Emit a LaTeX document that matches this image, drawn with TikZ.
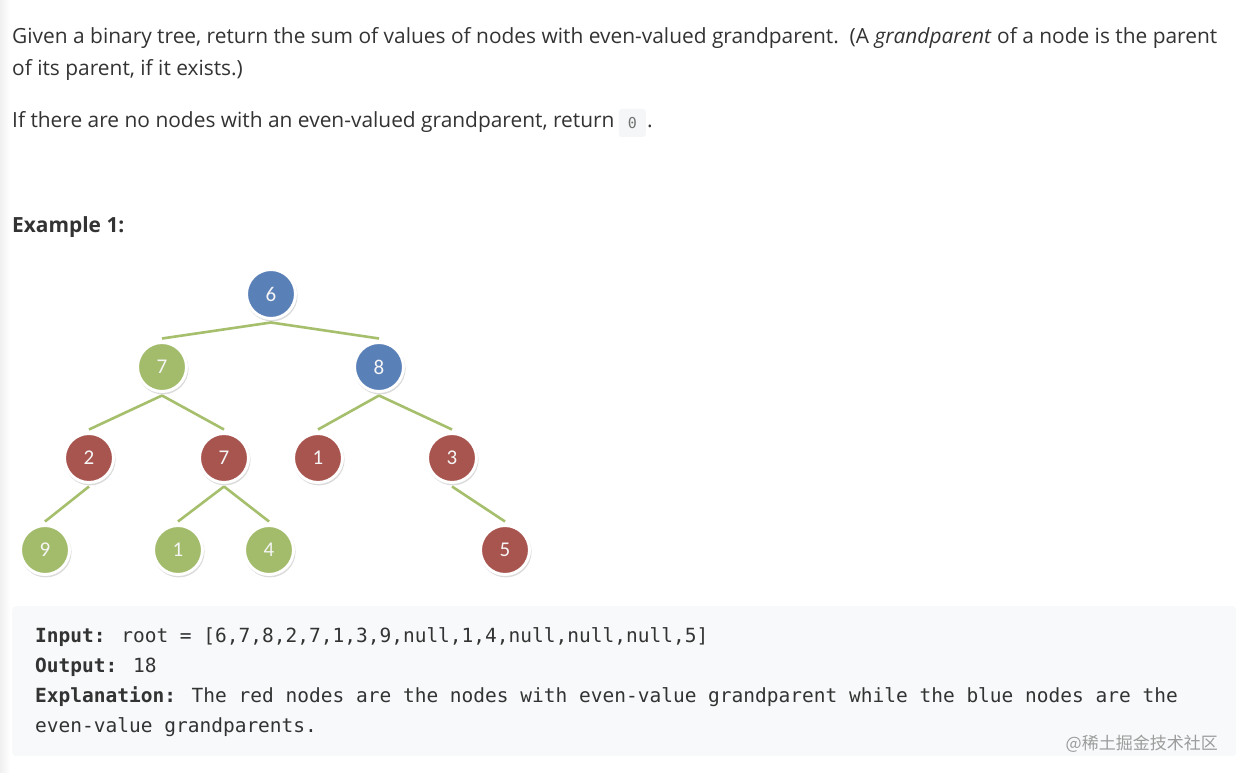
\documentclass[tikz,border=0pt]{standalone}
\usepackage{fontspec}
\setmainfont{Open Sans}
\newfontfamily\codefont{DejaVu Sans Mono}
\newfontfamily\labelfont{Carlito}
\newfontfamily\cjkfont{Noto Sans CJK SC}
\usetikzlibrary{shadows}
\pgfdeclarelayer{bgzero}
\pgfdeclarelayer{edgelayer}
\pgfsetlayers{bgzero,edgelayer,main}
\definecolor{txt}{HTML}{333333}
\definecolor{nblue}{HTML}{5A80B8}
\definecolor{nred}{HTML}{A8544F}
\definecolor{ngreen}{HTML}{A3BC6C}
\definecolor{edgegreen}{HTML}{A6BF6C}
\definecolor{codebg}{HTML}{F7F9FA}
\definecolor{inlinebg}{HTML}{F4F6F7}
\definecolor{wm}{HTML}{9C9C9C}
\begin{document}
\begin{tikzpicture}[x=1pt,y=-1pt,
  para/.style={anchor=base west,inner sep=0pt,text=txt,font=\fontsize{20.9}{24}\selectfont},
  codeline/.style={anchor=base west,inner sep=0pt,text=txt,font=\codefont\fontsize{19.5}{24}\selectfont},
  tnode/.style={circle,minimum size=49pt,inner sep=0pt,draw=white,line width=3pt,outer sep=4pt,
    text=white!92!gray,font=\labelfont\fontsize{21}{24}\selectfont,
    drop shadow={shadow xshift=0.8pt,shadow yshift=-1.6pt,shadow scale=1.05,opacity=0.28}},
  bn/.style={tnode,fill=nblue},
  rn/.style={tnode,fill=nred},
  gn/.style={tnode,fill=ngreen},
  edge/.style={draw=edgegreen,line width=2.6pt}]
\useasboundingbox (0,0) rectangle (1240,773);
\begin{pgfonlayer}{bgzero}
\fill[white] (0,0) rectangle (1240,773);
\shade[left color=black!6,right color=white] (0,0) rectangle (10,773);
\end{pgfonlayer}

% text
\node[para] (l1) at (12,44) {Given a binary tree, return the sum of values of nodes with even-valued grandparent.\ \ (A \textit{grandparent} of a node is the parent};
\node[para] (l2) at (12,76) {of its parent, if it exists.)};
\node[para] (l3) at (12,128) {If there are no nodes with an even-valued grandparent, return};
\node[fill=inlinebg,rounded corners=3pt,minimum width=27pt,minimum height=28pt,inner sep=0pt,anchor=west,
  text=black!55,font=\codefont\fontsize{15}{18}\selectfont] (zero) at ([xshift=4pt,yshift=5pt]l3.base east) {0};
\node[para,anchor=base west] (dot) at ([xshift=1pt]zero.east |- l3.base) {.};
\node[para,font=\bfseries\fontsize{20.9}{24}\selectfont] (ex) at (12,233) {Example 1:};

% tree
\node[bn] (n6) at (271,294) {6};
\node[gn] (n7a) at (162,367) {7};
\node[bn] (n8) at (379,367) {8};
\node[rn] (n2) at (89,458) {2};
\node[rn] (n7b) at (224,458) {7};
\node[rn] (n1a) at (318,458) {1};
\node[rn] (n3) at (452,458) {3};
\node[gn] (n9) at (45,550) {9};
\node[gn] (n1b) at (178,550) {1};
\node[gn] (n4) at (269,550) {4};
\node[rn] (n5) at (505,550) {5};
\begin{pgfonlayer}{edgelayer}
\draw[edge] (n6.south) -- (n7a.north);
\draw[edge] (n6.south) -- (n8.north);
\draw[edge] (n7a.south) -- (n2.north);
\draw[edge] (n7a.south) -- (n7b.north);
\draw[edge] (n8.south) -- (n1a.north);
\draw[edge] (n8.south) -- (n3.north);
\draw[edge] (n2.south) -- (n9.north);
\draw[edge] (n7b.south) -- (n1b.north);
\draw[edge] (n7b.south) -- (n4.north);
\draw[edge] (n3.south) -- (n5.north);
\end{pgfonlayer}

% code box
\begin{pgfonlayer}{edgelayer}
\node[fill=codebg,rounded corners=4pt,minimum width=1224pt,minimum height=150pt,inner sep=0pt,anchor=north west] (box) at (12,606) {};
\end{pgfonlayer}
\node[codeline] (c1) at (35,642) {\textbf{Input:} root = [6,7,8,2,7,1,3,9,null,1,4,null,null,null,5]};
\node[codeline] (c2) at (35,672) {\textbf{Output:} 18};
\node[codeline] (c3) at (35,702) {\textbf{Explanation:} The red nodes are the nodes with even-value grandparent while the blue nodes are the};
\node[codeline] (c4) at (35,732) {even-value grandparents.};
\node[anchor=base east,inner sep=0pt,text=wm,font=\cjkfont\fontsize{17}{20}\selectfont] (wmk) at (1218,749) {@稀土掘金技术社区};
\end{tikzpicture}
\end{document}
